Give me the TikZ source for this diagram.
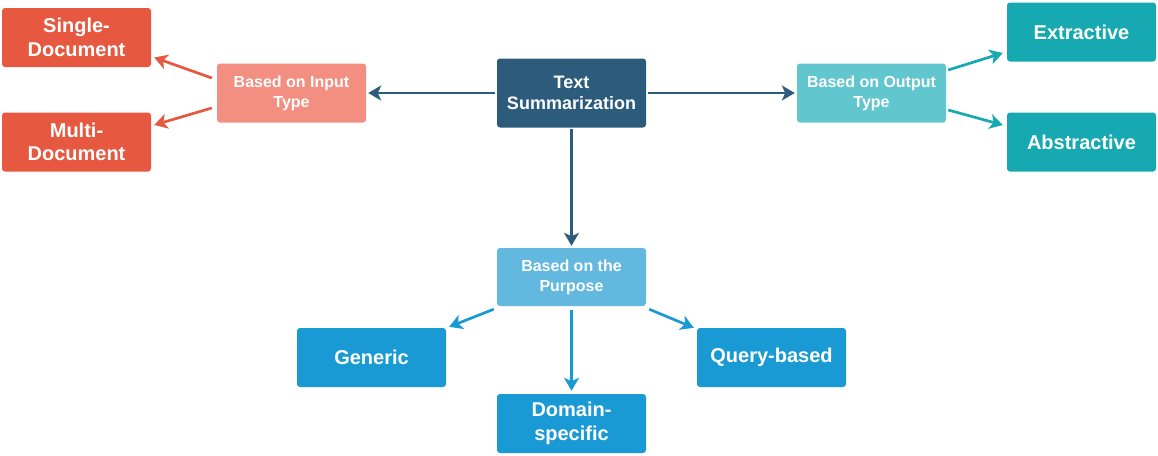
\documentclass[tikz,border=0pt]{standalone}
\usepackage{fontspec}
\setmainfont{Liberation Sans}
\usetikzlibrary{arrows.meta,calc}
\definecolor{tsc}{HTML}{2D5B7C}
\definecolor{inc}{HTML}{F28F80}
\definecolor{redc}{HTML}{E6583F}
\definecolor{outc}{HTML}{62C6CE}
\definecolor{tealc}{HTML}{16A9B1}
\definecolor{purc}{HTML}{63B8E0}
\definecolor{bluec}{HTML}{1A9AD4}
\begin{document}
\begin{tikzpicture}[x=1pt,y=-1pt,
  box/.style={rectangle,rounded corners=3pt,inner sep=0pt,minimum width=149pt,minimum height=59pt,align=center,text=white,font=\bfseries},
  leaf/.style={box,font=\fontsize{20}{23.5}\selectfont\bfseries},
  mid/.style={box,font=\fontsize{16}{20}\selectfont\bfseries},
  arr/.style={line width=2.7pt,-{Stealth[length=13pt,width=15pt,inset=3.5pt]}}
]
\useasboundingbox (0,0) rectangle (1158,455);
\node[box,fill=tsc,minimum height=69pt,font=\fontsize{18}{21}\selectfont\bfseries] (ts) at (571.5,93) {Text\\Summarization};
\node[mid,fill=inc] (input) at (291.5,93) {Based on Input\\Type};
\node[leaf,fill=redc] (single) at (76.5,37.5) {Single-\\Document};
\node[leaf,fill=redc] (multi) at (76.5,142) {Multi-\\Document};
\node[mid,fill=outc] (output) at (871.5,93) {Based on Output\\Type};
\node[leaf,fill=tealc] (extr) at (1081.5,32) {Extractive};
\node[leaf,fill=tealc] (abst) at (1081.5,142) {Abstractive};
\node[mid,fill=purc,minimum height=58pt] (purpose) at (571.5,277) {Based on the\\Purpose};
\node[leaf,fill=bluec] (generic) at (371.5,357.5) {Generic};
\node[leaf,fill=bluec] (query) at (771.5,357.5) {Query-based};
\node[leaf,fill=bluec] (domain) at (571.5,423.5) {Domain-\\specific};

\draw[arr,tsc] ($(ts.west)+(-2,0)$) -- ($(input.east)+(2,0)$);
\draw[arr,tsc] ($(ts.east)+(2,0)$) -- ($(output.west)+(-2,0)$);
\draw[arr,tsc] ($(ts.south)+(0,1)$) -- ($(purpose.north)+(0,-2)$);

\draw[arr,redc] ($(input.west)+(-5,-15)$) -- ($(single.east)+(3,20)$);
\draw[arr,redc] ($(input.west)+(-5,15)$) -- ($(multi.east)+(3,-17)$);

\draw[arr,tealc] ($(output.east)+(2,-23)$) -- ($(extr.west)+(-4,21)$);
\draw[arr,tealc] ($(output.east)+(2,17)$) -- ($(abst.west)+(-4,-17)$);

\draw[arr,bluec] ($(purpose.south west)+(-3,3)$) -- ($(generic.north east)+(3,-1)$);
\draw[arr,bluec] ($(purpose.south)+(0,4)$) -- ($(domain.north)+(0,-3)$);
\draw[arr,bluec] ($(purpose.south east)+(3,3)$) -- ($(query.north west)+(-3,0)$);
\end{tikzpicture}
\end{document}
